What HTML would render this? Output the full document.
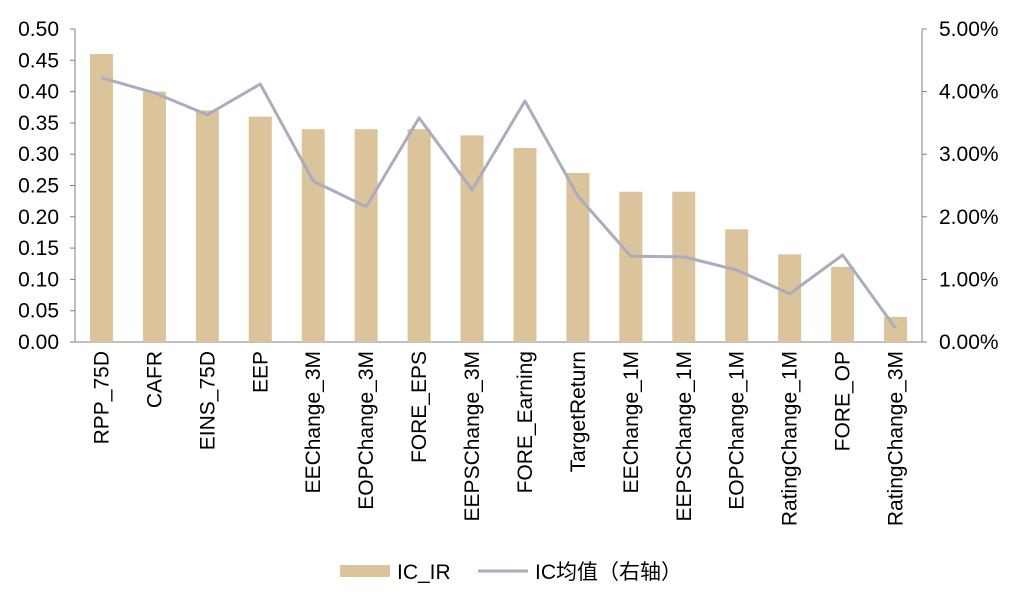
<!DOCTYPE html>
<html><head><meta charset="utf-8"><style>
body{margin:0;background:#fff;}
svg text{font-family:"Liberation Sans","Noto Sans CJK SC",sans-serif;fill:#000;}
</style></head><body>
<svg id="chart" width="1020" height="602" xmlns="http://www.w3.org/2000/svg"></svg>
<script>
const categories=["RPP_75D","CAFR","EINS_75D","EEP","EEChange_3M","EOPChange_3M","FORE_EPS","EEPSChange_3M","FORE_Earning","TargetReturn","EEChange_1M","EEPSChange_1M","EOPChange_1M","RatingChange_1M","FORE_OP","RatingChange_3M"];
const icIR=[0.46,0.40,0.37,0.36,0.34,0.34,0.34,0.33,0.31,0.27,0.24,0.24,0.18,0.14,0.12,0.04];
const icMean=[4.22,3.98,3.63,4.12,2.57,2.16,3.58,2.43,3.85,2.33,1.37,1.36,1.15,0.77,1.39,0.22];
const leftTicks=[0,0.05,0.10,0.15,0.20,0.25,0.30,0.35,0.40,0.45,0.50];
const rightTicks=[0,1,2,3,4,5];
const NS="http://www.w3.org/2000/svg";
const svg=document.getElementById('chart');
const L=75,R=922,T=29,B=342;
const FS=21;
const band=(R-L)/categories.length;
const yL=v=>B-(v/0.5)*(B-T);
const yR=v=>B-(v/5)*(B-T);
const xC=i=>L+band*(i+0.5);
function mk(tag,attrs,parent){const e=document.createElementNS(NS,tag);for(const k in attrs)e.setAttribute(k,attrs[k]);(parent||svg).appendChild(e);return e;}
let a=mk('line',{x1:L,y1:T,x2:L,y2:B,stroke:'#808080'});


a=mk('line',{x1:R,y1:T,x2:R,y2:B,stroke:'#808080'});


a=mk('line',{x1:L,y1:B,x2:R,y2:B,stroke:'#808080'});


leftTicks.forEach(v=>{
  mk('line',{x1:L-5,y1:yL(v),x2:L,y2:yL(v),stroke:'#808080'});
  const t=mk('text',{x:59,y:yL(v)+7,'text-anchor':'end','font-size':FS});
  t.textContent=v.toFixed(2);
  
  
});
rightTicks.forEach(v=>{
  mk('line',{x1:R,y1:yR(v),x2:R+5,y2:yR(v),stroke:'#808080'});
  const t=mk('text',{x:R+17,y:yR(v)+7,'text-anchor':'start','font-size':FS});
  t.textContent=v.toFixed(2)+'%';
  
  
});
const bw=23;
icIR.forEach((v,i)=>{
  const r=mk('rect',{x:xC(i)-bw/2,y:yL(v),width:bw,height:B-yL(v),fill:'#dbc39c'});
  
  
});
categories.forEach((c,i)=>{
  const x=xC(i)+7,y=351;
  const t=mk('text',{x:x,y:y,transform:`rotate(-90 ${x} ${y})`,'text-anchor':'end','font-size':FS});
  t.textContent=c;
  
  
});
const pts=icMean.map((v,i)=>xC(i)+','+yR(v)).join(' ');
const pl=mk('polyline',{points:pts,fill:'none',stroke:'#abadbe','stroke-width':3,'stroke-linejoin':'round'});


const lg=mk('g',{});


const lr=mk('rect',{x:340,y:565,width:50,height:12,fill:'#dbc39c'},lg);


let lt=mk('text',{x:397,y:579,'font-size':FS},lg);lt.textContent='IC_IR';


const ll=mk('line',{x1:478,y1:571,x2:528,y2:571,stroke:'#abadbe','stroke-width':3},lg);


lt=mk('text',{x:535,y:579,'font-size':FS},lg);lt.textContent='IC均值（右轴）';


</script>
</body></html>
